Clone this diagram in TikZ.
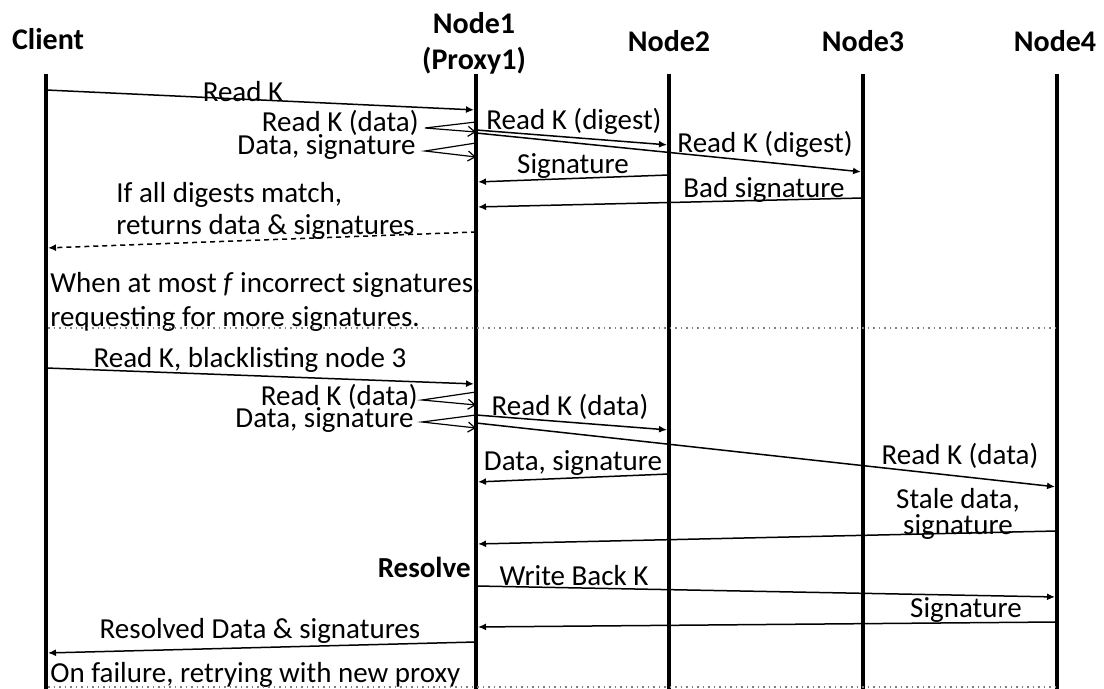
\documentclass[tikz,border=0pt]{standalone}
\usepackage{fontspec}
\setmainfont{Carlito}
\usetikzlibrary{arrows.meta}

\begin{document}
\begin{tikzpicture}[
    x=0.5pt, y=-0.5pt,
    lifeline/.style={line width=2pt},
    head/.style={font=\fontsize{15}{18}\selectfont\bfseries, inner sep=0pt},
    lbl/.style={font=\fontsize{14.5}{15}\selectfont, inner sep=0pt},
    msg/.style={line width=0.75pt, -{Latex[length=4pt, width=3.5pt]}, shorten >=1pt},
    reply/.style={msg, dash pattern=on 2.5pt off 2pt},
    loopback/.style={line width=0.6pt, -{Straight Barb[length=3.5pt, width=5pt]}},
    phase/.style={gray, line width=0.75pt, dotted}
]

\useasboundingbox (0,0) rectangle (1104,689);

% Lifeline positions
\def\clientX{46}
\def\nodeAX{476}
\def\nodeBX{669}
\def\nodeCX{863}
\def\nodeDX{1057}
\def\topY{74}
\def\botY{689}

% Headers
\node[head] (client) at (48,39) {Client};
\node[head, align=center, anchor=north] (node1) at (474,12) {Node1\\(Proxy1)};
\node[head] (node2) at (\nodeBX,41) {Node2};
\node[head] (node3) at (\nodeCX,41) {Node3};
\node[head] (node4) at (1055,41) {Node4};

% Lifelines
\draw[lifeline] (\clientX,\topY) -- (\clientX,\botY);
\draw[lifeline] (\nodeAX,\topY) -- (\nodeAX,\botY);
\draw[lifeline] (\nodeBX,\topY) -- (\nodeBX,\botY);
\draw[lifeline] (\nodeCX,\topY) -- (\nodeCX,\botY);
\draw[lifeline] (\nodeDX,\topY) -- (\nodeDX,\botY);

% Phase 1: digest read
\coordinate (readC) at (\clientX,90);
\coordinate (readN1) at (\nodeAX,110);
\draw[msg] (readC) -- (readN1);
\node[lbl] (readLbl) at (243,92) {Read K};

\coordinate (loopA1) at (\nodeAX,122);
\coordinate (loopA2) at (425,128);
\coordinate (loopA3) at (\nodeAX,132);
\draw[loopback] (loopA1) -- (loopA2) -- (loopA3);
\node[lbl, anchor=east] (loopALbl) at (419,123) {Read K (data)};

\coordinate (loopB1) at (\nodeAX,143);
\coordinate (loopB2) at (425,151);
\coordinate (loopB3) at (\nodeAX,157);
\draw[loopback] (loopB1) -- (loopB2) -- (loopB3);
\node[lbl, anchor=east] (loopBLbl) at (416,147) {Data, signature};

\coordinate (dgA1) at (\nodeAX,130);
\coordinate (dgA2) at (\nodeBX,145);
\draw[msg] (dgA1) -- (dgA2);
\node[lbl] (dgALbl) at (574,121) {Read K (digest)};

\coordinate (dgB1) at (\nodeAX,133);
\coordinate (dgB3) at (\nodeCX,172);
\draw[msg] (dgB1) -- (dgB3);
\node[lbl] (dgBLbl) at (765,144) {Read K (digest)};

\coordinate (sigB2) at (\nodeBX,175);
\coordinate (sigB1) at (\nodeAX,182);
\draw[msg] (sigB2) -- (sigB1);
\node[lbl] (sigBLbl) at (573,166) {Signature};

\coordinate (badB3) at (\nodeCX,198);
\coordinate (badB1) at (\nodeAX,207);
\draw[msg] (badB3) -- (badB1);
\node[lbl] (badBLbl) at (764,190) {Bad signature};

\coordinate (retN1) at (\nodeAX,232);
\coordinate (retC) at (\clientX,248);
\draw[reply] (retN1) -- (retC);
\node[lbl, align=left, anchor=north west, font=\fontsize{14.5}{16}\selectfont] (retLbl) at (116,182)
    {If all digests match,\\returns data \& signatures};

\node[lbl, align=left, anchor=north west, font=\fontsize{14.5}{17}\selectfont] (whenLbl) at (50,272)
    {When at most \textit{f} incorrect signatures,\\requesting for more signatures.};

% Phase separator
\coordinate (sepA) at (48,328);
\coordinate (sepB) at (\nodeDX,328);
\draw[phase] (sepA) -- (sepB);

% Phase 2: data read with blacklist
\coordinate (blC) at (\clientX,368);
\coordinate (blN1) at (\nodeAX,384);
\draw[msg] (blC) -- (blN1);
\node[lbl] (blLbl) at (250,360) {Read K, blacklisting node 3};

\coordinate (loopC1) at (\nodeAX,392);
\coordinate (loopC2) at (422,400);
\coordinate (loopC3) at (\nodeAX,405);
\draw[loopback] (loopC1) -- (loopC2) -- (loopC3);
\node[lbl, anchor=east] (loopCLbl) at (418,397) {Read K (data)};

\coordinate (loopD1) at (\nodeAX,415);
\coordinate (loopD2) at (422,422);
\coordinate (loopD3) at (\nodeAX,428);
\draw[loopback] (loopD1) -- (loopD2) -- (loopD3);
\node[lbl, anchor=east] (loopDLbl) at (414,420) {Data, signature};

\coordinate (rdB1) at (\nodeAX,415);
\coordinate (rdB2) at (\nodeBX,430);
\draw[msg] (rdB1) -- (rdB2);
\node[lbl] (rdBLbl) at (570,407) {Read K (data)};

\coordinate (rdD1) at (\nodeAX,423);
\coordinate (rdD4) at (\nodeDX,487);
\draw[msg] (rdD1) -- (rdD4);
\node[lbl] (rdDLbl) at (960,456) {Read K (data)};

\coordinate (dsB2) at (\nodeBX,474);
\coordinate (dsB1) at (\nodeAX,482);
\draw[msg] (dsB2) -- (dsB1);
\node[lbl] (dsBLbl) at (573,463) {Data, signature};

\coordinate (staleD4) at (\nodeDX,531);
\coordinate (staleD1) at (\nodeAX,544);
\draw[msg] (staleD4) -- (staleD1);
\node[lbl, align=center, anchor=north, font=\fontsize{14.5}{11.5}\selectfont] (staleLbl) at (958,488)
    {Stale data,\\signature};

% Resolve step
\node[lbl, anchor=east, font=\fontsize{14.5}{15}\selectfont\bfseries] (resolve) at (471,567) {Resolve};

\coordinate (wbD1) at (\nodeAX,586);
\coordinate (wbD4) at (\nodeDX,597);
\draw[msg] (wbD1) -- (wbD4);
\node[lbl] (wbLbl) at (574,576) {Write Back K};

\coordinate (sigD4) at (\nodeDX,622);
\coordinate (sigD1) at (\nodeAX,627);
\draw[msg] (sigD4) -- (sigD1);
\node[lbl] (sigDLbl) at (966,610) {Signature};

\coordinate (resN1) at (\nodeAX,642);
\coordinate (resC) at (\clientX,653);
\draw[msg] (resN1) -- (resC);
\node[lbl] (resLbl) at (260,631) {Resolved Data \& signatures};

\node[lbl, anchor=west] (failLbl) at (50,675) {On failure, retrying with new proxy};

% Bottom separator
\coordinate (endA) at (48,687);
\coordinate (endB) at (\nodeDX,687);
\draw[phase] (endA) -- (endB);

\end{tikzpicture}
\end{document}
